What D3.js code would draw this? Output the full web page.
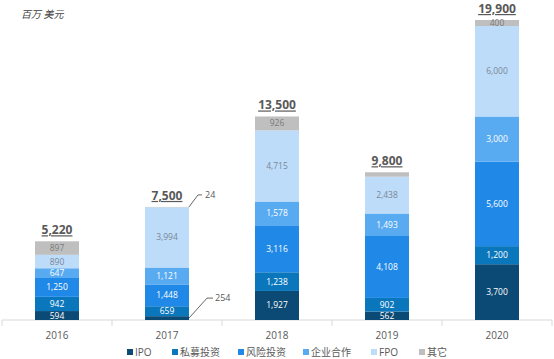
<!DOCTYPE html>
<html><head><meta charset="utf-8">
<script src="https://cdn.jsdelivr.net/npm/d3@7"></script>
<style>body{margin:0;background:#fff}svg{display:block;font-family:"Open Sans","Noto Sans","Noto Sans CJK SC",sans-serif}</style>
</head><body><svg id="c" width="554" height="359"></svg>
<script>
const years = ["2016","2017","2018","2019","2020"];
const seriesNames = ["IPO","私募投资","风险投资","企业合作","FPO","其它"];
const ipo = [594,254,1927,562,3700];
const pe = [942,659,1238,902,1200];
const vc = [1250,1448,3116,4108,5600];
const corp = [647,1121,1578,1493,3000];
const fpo = [890,3994,4715,2438,6000];
const other = [897,24,926,297,400];
const totals = ["5,220","7,500","13,500","9,800","19,900"];
const colors = ["#0b4a75","#0a77bd","#2089e8","#58aaf1","#bddcfa","#bfbfbf"];
const labelColors = ["#fff","#fff","#fff","#fff","#7a8796","#7a7a7a"];

const svg = d3.select("#c");
const seriesVals = [ipo,pe,vc,corp,fpo,other];
const data = years.map((y,i)=>{const o={year:y};seriesNames.forEach((s,j)=>o[s]=seriesVals[j][i]);return o;});
const stack = d3.stack().keys(seriesNames)(data);

const x = d3.scaleBand().domain(years).range([2,552]).paddingInner(0).paddingOuter(0);
const y = d3.scaleLinear().domain([0,19900]).range([320,20]);
const bw = 44;
const bx = d => x(d) + (x.bandwidth()-bw)/2;

// axis
const ax = svg.append("g").attr("transform","translate(0,320)");
ax.append("line").attr("x1",2).attr("x2",552).attr("stroke","#d9d9d9");
const edges = years.map(d=>x(d)).concat([552]);
ax.selectAll(".tk").data(edges).join("line").attr("x1",d=>d).attr("x2",d=>d).attr("y1",0).attr("y2",6).attr("stroke","#d9d9d9");
svg.selectAll(".yl").data(years).join("text").attr("x",d=>x(d)+x.bandwidth()/2).attr("y",339)
  .attr("text-anchor","middle").attr("font-size",10).attr("fill","#595959").text(d=>d);

// bars
stack.forEach((layer,j)=>{
  const g = svg.append("g");
  g.selectAll("rect").data(layer).join("rect")
    .attr("x",d=>bx(d.data.year)).attr("width",bw)
    .attr("y",d=>y(d[1])).attr("height",d=>y(d[0])-y(d[1]))
    .attr("fill",colors[j]);
  g.selectAll("text").data(layer.filter(d=>(y(d[0])-y(d[1]))>6)).join("text")
    .attr("x",d=>bx(d.data.year)+bw/2).attr("y",d=>(y(d[0])+y(d[1]))/2+3)
    .attr("text-anchor","middle").attr("font-size",8.5).attr("fill",labelColors[j])
    .text(d=>d3.format(",")(d[1]-d[0]));
});

// totals
svg.selectAll(".tot").data(data).join("text")
  .attr("x",d=>bx(d.year)+bw/2).attr("y",(d,i)=>y(d3.sum(seriesVals,s=>s[i]))-7)
  .attr("text-anchor","middle").attr("font-size",12).attr("font-weight","bold").attr("fill","#595959")
  .attr("text-decoration","underline").text((d,i)=>totals[i]);

// callouts for 2017
const i17 = 1;
const top17 = y(d3.sum(seriesVals,s=>s[i17]));
const x17 = bx("2017")+bw;
const lineG = svg.append("g").attr("stroke","#404040").attr("fill","none").attr("stroke-width",0.8);
lineG.append("path").attr("d",`M${x17},${top17} L${x17+9},${top17-12} L${x17+13},${top17-12}`);
svg.append("text").attr("x",x17+16).attr("y",top17-9).attr("font-size",9).attr("fill","#595959").text(String(other[i17]));
const ipoMid = y(ipo[i17]/2);
lineG.append("path").attr("d",`M${x17},${ipoMid} L${x17+18},${ipoMid-20} L${x17+24},${ipoMid-20}`);
svg.append("text").attr("x",x17+26).attr("y",ipoMid-17).attr("font-size",9).attr("fill","#595959").text(String(ipo[i17]));

// unit title
svg.append("text").attr("x",21).attr("y",18).attr("font-size",10).attr("font-style","italic").attr("fill","#404040").text("百万 美元");

// legend
const lx = [127,172,238,303,371,419];
const lg = svg.selectAll(".lg").data(seriesNames).join("g").attr("transform",(d,i)=>`translate(${lx[i]},356)`);
lg.append("rect").attr("x",0).attr("y",-7).attr("width",6).attr("height",6).attr("fill",(d,i)=>colors[i]);
lg.append("text").attr("x",8).attr("y",0).attr("font-size",10).attr("fill","#595959").text(d=>d);
</script></body></html>
